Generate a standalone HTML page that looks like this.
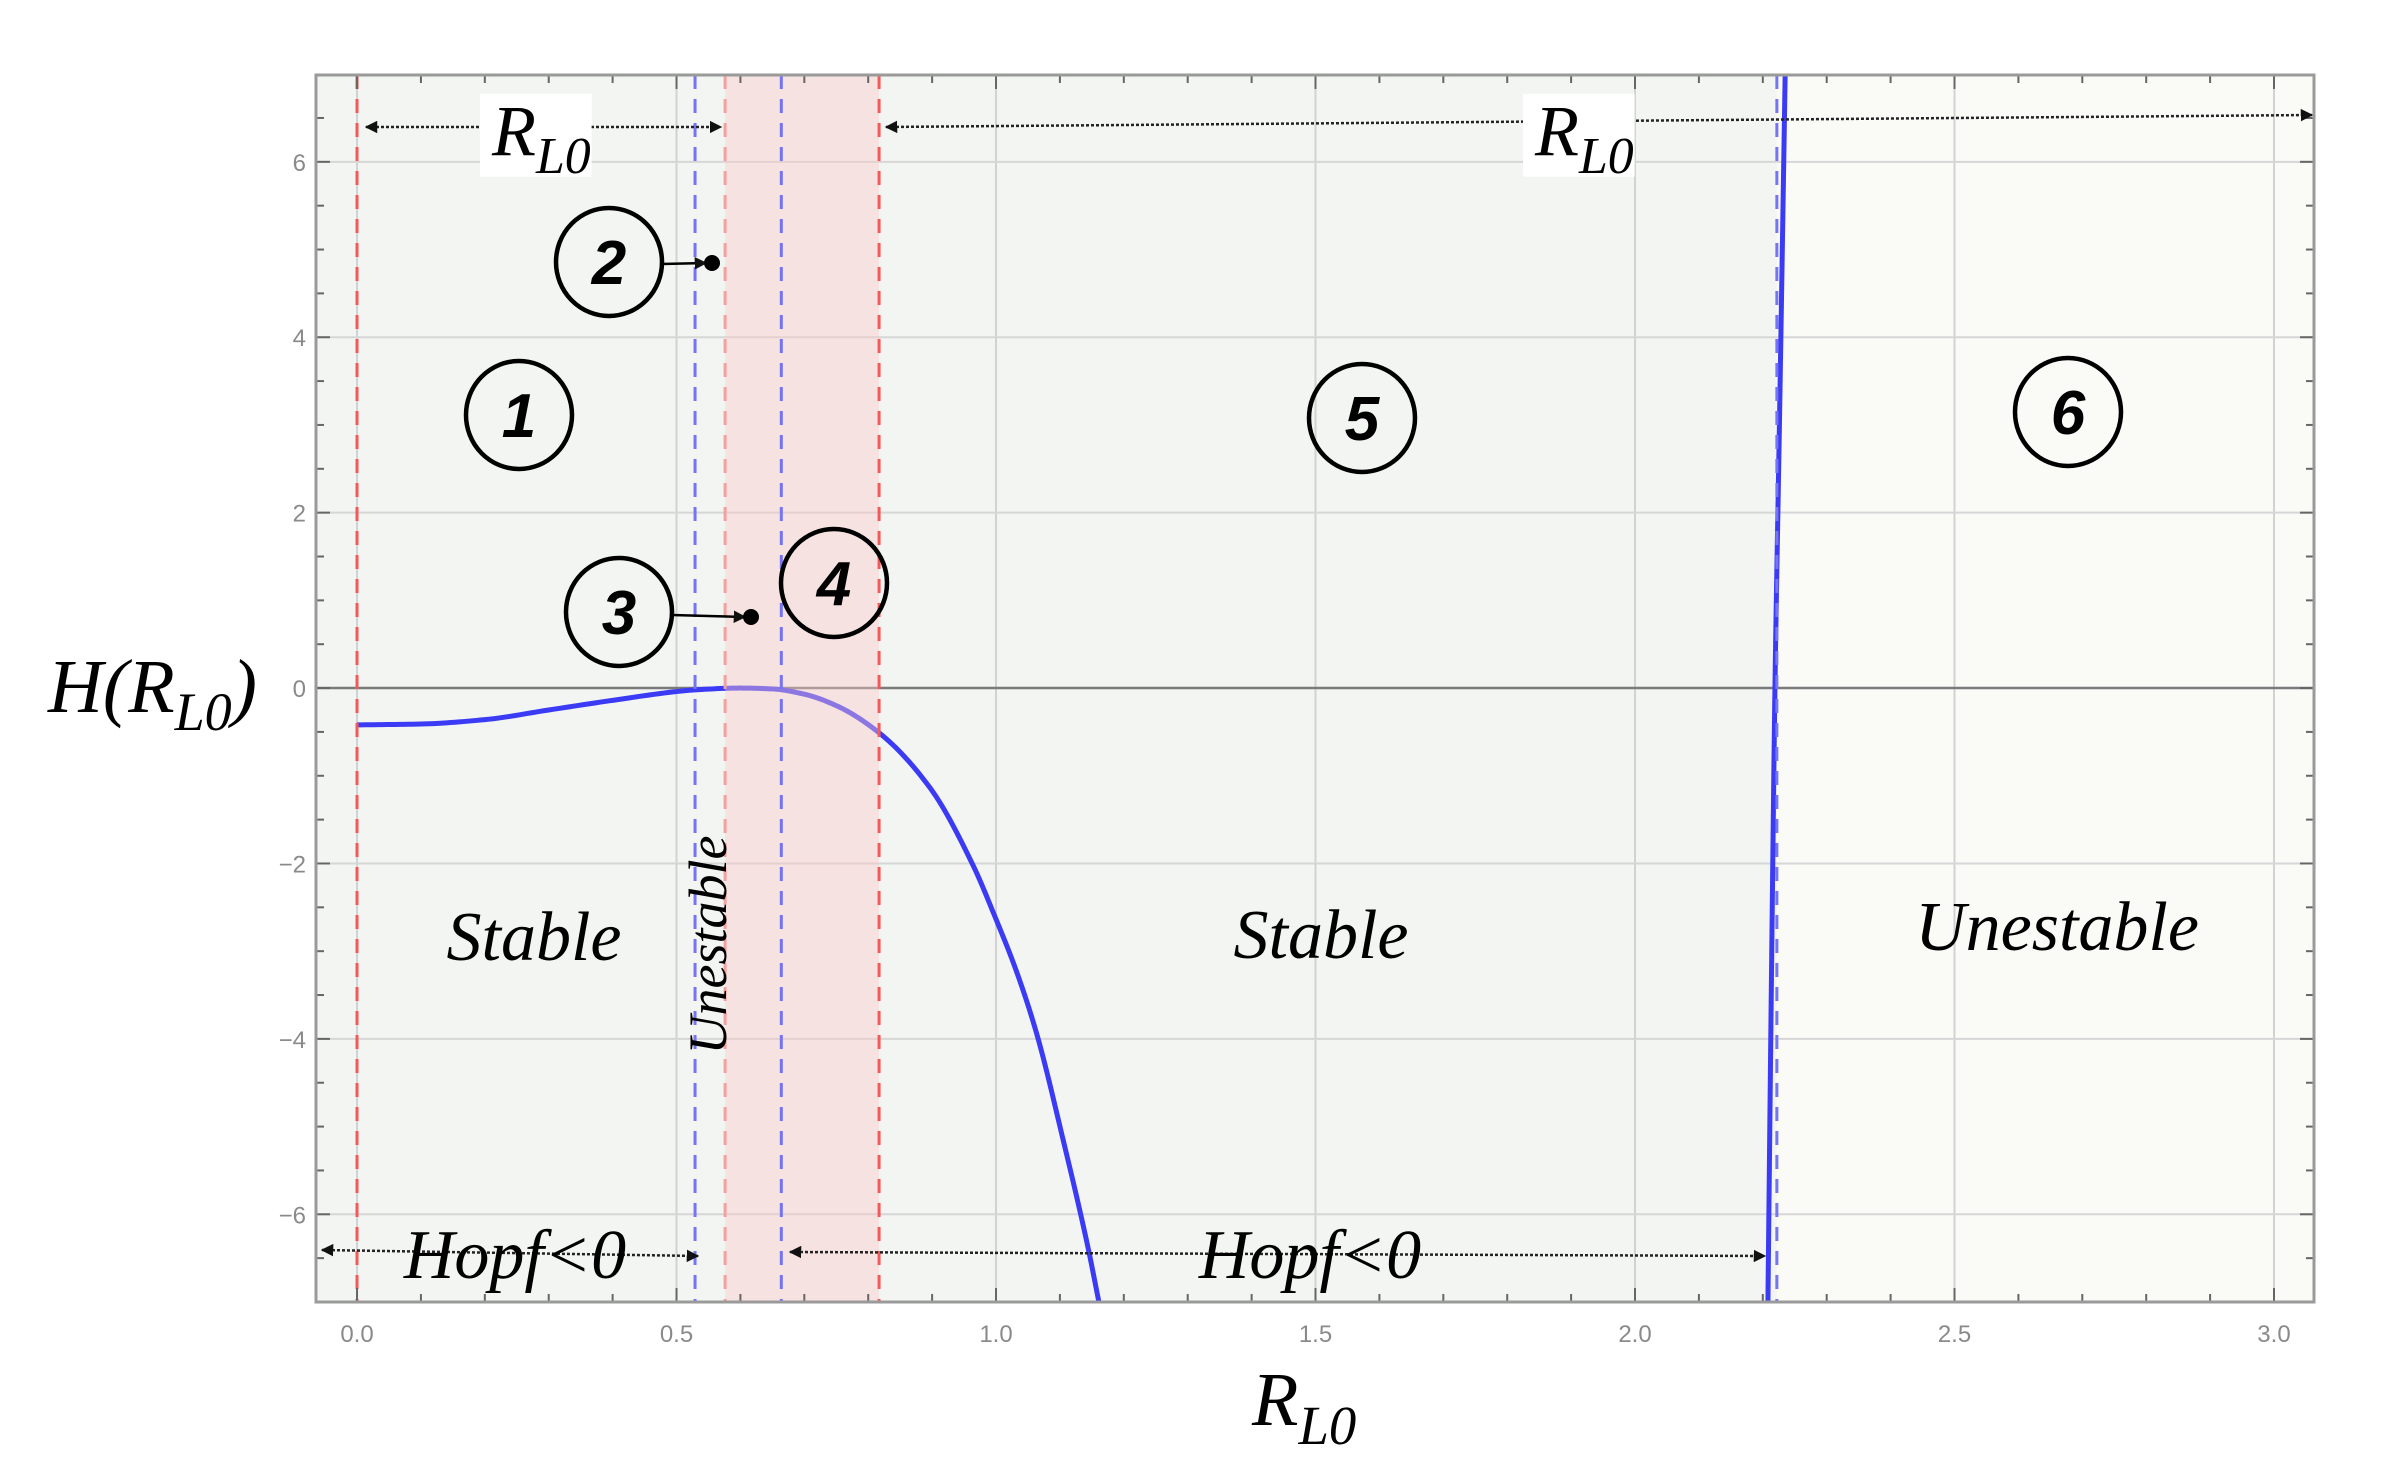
<!DOCTYPE html>
<html><head><meta charset="utf-8"><style>
html,body{margin:0;padding:0;background:#fff;}
svg{display:block;}
</style></head><body>
<svg id="chart" width="2401" height="1481" viewBox="0 0 2401 1481" xmlns="http://www.w3.org/2000/svg">
<defs>
<marker id="ah" viewBox="0 0 10 10" refX="9" refY="5" markerWidth="5" markerHeight="5" orient="auto-start-reverse"><path d="M0,0 L10,5 L0,10 z" fill="#111"/></marker>
</defs>
<rect x="0" y="0" width="2401" height="1481" fill="#fff"/>
<g id="bg"></g>
<g id="grid"></g>
<g id="curves"></g>
<g id="overlay"></g>
<g id="axes"></g>
<g id="annot" font-family="'Liberation Serif', serif" font-style="italic"></g>
</svg>
<script>
const xTicks = [0, 0.5, 1.0, 1.5, 2.0, 2.5, 3.0];
const xTickLabels = ["0.0","0.5","1.0","1.5","2.0","2.5","3.0"];
const yTicks = [-6, -4, -2, 0, 2, 4, 6];
const yTickLabels = ["\u22126","\u22124","\u22122","0","2","4","6"];
const branch1X = [0,0.1,0.2,0.3,0.4,0.5,0.53,0.6,0.65,0.7,0.75,0.817,0.897,0.964,0.998,1.033,1.064,1.105,1.144,1.161];
const branch1H = [-0.42,-0.41,-0.36,-0.25,-0.14,-0.04,-0.02,0,-0.01,-0.07,-0.2,-0.51,-1.14,-2.02,-2.6,-3.25,-3.95,-5.15,-6.38,-7.0];
const branch2X = [2.208,2.214,2.219,2.226,2.235];
const branch2H = [-7,-3,0,3,7];
const redLines = [0, 0.817];
const redLightLines = [0.576];
const blueLines = [0.529, 0.664, 2.222];
const band = [0.576, 0.817];
const unstableStart = 2.222;

const X0=316, X1=2314, Y0=75, Y1=1302;
const xmin=-0.0642, xmax=3.0626, ymin=-7.0, ymax=6.99;
function sx(v){return X0+(v-xmin)/(xmax-xmin)*(X1-X0);}
function sy(v){return Y1-(v-ymin)/(ymax-ymin)*(Y1-Y0);}
const NS="http://www.w3.org/2000/svg";
function mk(tag, attrs, parent){const e=document.createElementNS(NS,tag);for(const k in attrs)e.setAttribute(k,attrs[k]);parent.appendChild(e);return e;}
const bg=document.getElementById('bg'), grid=document.getElementById('grid'), curves=document.getElementById('curves'), ov=document.getElementById('overlay'), axes=document.getElementById('axes'), an=document.getElementById('annot');

let r=mk('rect',{x:X0,y:Y0,width:sx(unstableStart)-X0,height:Y1-Y0,fill:'#f3f5f2'},bg);


r=mk('rect',{x:sx(unstableStart),y:Y0,width:X1-sx(unstableStart),height:Y1-Y0,fill:'#fafaf7'},bg);



xTicks.forEach((t,i)=>{
  const l=mk('line',{x1:sx(t),x2:sx(t),y1:Y0,y2:Y1,stroke:'#d2d2d2','stroke-width':2},grid);
  
  
  const tx=mk('text',{x:sx(t),y:Y1+40,'text-anchor':'middle','font-family':"'Liberation Sans', sans-serif",'font-size':24,fill:'#8a8a8a'},axes);
  tx.textContent=xTickLabels[i];
  
  
});
yTicks.forEach((t,i)=>{
  const l=mk('line',{x1:X0,x2:X1,y1:sy(t),y2:sy(t),stroke:t===0?'#7a7a7a':'#d6d6d6','stroke-width':t===0?2.5:2},grid);
  
  
  const tx=mk('text',{x:X0-10,y:sy(t)+9,'text-anchor':'end','font-family':"'Liberation Sans', sans-serif",'font-size':24,fill:'#8a8a8a'},axes);
  tx.textContent=yTickLabels[i];
  
  
});
for(let v=-0.0; v<=3.05; v+=0.1){
  const major=Math.abs(v/0.5-Math.round(v/0.5))<1e-6, L=major?14:8;
  mk('line',{x1:sx(v),x2:sx(v),y1:Y1,y2:Y1-L,stroke:'#666','stroke-width':2},axes);
  mk('line',{x1:sx(v),x2:sx(v),y1:Y0,y2:Y0+L,stroke:'#666','stroke-width':2},axes);
}
for(let v=-6.5; v<=6.6; v+=0.5){
  const major=Math.abs(v/2-Math.round(v/2))<1e-6, L=major?14:8;
  mk('line',{x1:X0,x2:X0+L,y1:sy(v),y2:sy(v),stroke:'#666','stroke-width':2},axes);
  mk('line',{x1:X1,x2:X1-L,y1:sy(v),y2:sy(v),stroke:'#666','stroke-width':2},axes);
}
r=mk('rect',{x:X0,y:Y0,width:X1-X0,height:Y1-Y0,fill:'none',stroke:'#9a9a9a','stroke-width':3},axes);



function monoPath(xs,ys){
  const n=xs.length, d=[], m=new Array(n);
  for(let i=0;i<n-1;i++) d.push((ys[i+1]-ys[i])/(xs[i+1]-xs[i]));
  m[0]=d[0]; m[n-1]=d[n-2];
  for(let i=1;i<n-1;i++){
    if(d[i-1]*d[i]<=0) m[i]=0;
    else { const h0=xs[i]-xs[i-1], h1=xs[i+1]-xs[i];
      const w1=2*h1+h0, w2=h1+2*h0; m[i]=(w1+w2)/(w1/d[i-1]+w2/d[i]); }
  }
  let s='';
  for(let i=0;i<n-1;i++){
    const h=xs[i+1]-xs[i];
    for(let k=0;k<=15;k++){
      if(i>0&&k===0) continue;
      const t=k/15, t2=t*t, t3=t2*t;
      const y=(2*t3-3*t2+1)*ys[i]+(t3-2*t2+t)*h*m[i]+(-2*t3+3*t2)*ys[i+1]+(t3-t2)*h*m[i+1];
      const x=xs[i]+t*h;
      s+=(s?' L':'M')+sx(x).toFixed(2)+','+sy(y).toFixed(2);
    }
  }
  return s;
}
let pth=mk('path',{d:monoPath(branch1X,branch1H),fill:'none',stroke:'#3b3bf5','stroke-width':5,'stroke-linejoin':'round'},curves);


pth=mk('path',{d:monoPath(branch2X,branch2H),fill:'none',stroke:'#3b3bf5','stroke-width':5},curves);



r=mk('rect',{x:sx(band[0]),y:Y0,width:sx(band[1])-sx(band[0]),height:Y1-Y0,fill:'rgba(250,200,200,0.42)'},ov);



function vline(v,color,name){
  const l=mk('line',{x1:sx(v),x2:sx(v),y1:Y0,y2:Y1,stroke:color,'stroke-width':3,'stroke-dasharray':'14 10'},ov);
  
  
}
redLines.forEach(v=>vline(v,'#f25a5a','red-boundary-line'));
redLightLines.forEach(v=>vline(v,'#f3a0a0','light-red-boundary-line'));
blueLines.forEach(v=>vline(v,'#7474f4','blue-boundary-line'));

function arrow(x1,y1,x2,y2,name){
  const l=mk('line',{x1,y1,x2,y2,stroke:'#222','stroke-width':2.5,'stroke-dasharray':'3 2','marker-start':'url(#ah)','marker-end':'url(#ah)'},an);
  
  
}
arrow(366,127,721,127,'rl0-range-arrow-left');
arrow(886,127,2312,115,'rl0-range-arrow-right');
arrow(322,1250,698,1256,'hopf-arrow-left');
arrow(790,1252,1765,1256,'hopf-arrow-right');

function label(x,y,txt,size,name,extra){
  const t=mk('text',Object.assign({x,y,'font-size':size,fill:'#000','text-anchor':'middle'},extra||{}),an);
  t.textContent=txt;
  
  
  return t;
}
function rl0(x,y,size,name){
  mk('rect',{x:x-12,y:y-size*0.85,width:size*1.55,height:size*1.15,fill:'#fff'},an);
  const t=mk('text',{x,y,'font-size':size,fill:'#000'},an);
  
  
  t.innerHTML='R<tspan font-size="'+(size*0.72)+'" dy="'+(size*0.25)+'">L0</tspan>';
}
rl0(492,155,72,'rl0-label-left');
rl0(1535,155,72,'rl0-label-right');
rl0(1252,1425,76,'x-axis-title');

const yt=mk('text',{x:48,y:712,'font-size':76,fill:'#000'},an);


yt.innerHTML='H(R<tspan font-size="54" dy="18">L0</tspan><tspan dy="-18">)</tspan>';

label(534,960,'Stable',70,'stable-label-left');
label(1321,958,'Stable',70,'stable-label-right');
label(2057,950,'Unestable',70,'unstable-label-right');
label(0,0,'Unestable',54,'unstable-label-vertical',{transform:'translate(726,945) rotate(-90)'});
label(515,1278,'Hopf<0',70,'hopf-label-left');
label(1310,1278,'Hopf<0',70,'hopf-label-right');

function circ(cx,cy,n,name){
  const g=mk('g',{},an);
  
  
  mk('ellipse',{cx,cy,rx:53,ry:54,fill:'none',stroke:'#000','stroke-width':4.5},g);
  const t=mk('text',{x:cx,y:cy+22,'font-size':62,'font-weight':'bold','text-anchor':'middle','font-family':"'Liberation Sans', sans-serif",'font-style':'italic',fill:'#000'},g);
  t.textContent=n;
}
circ(519,415,'1','region-1-marker');
circ(609,262,'2','region-2-marker');
circ(619,612,'3','region-3-marker');
circ(834,583,'4','region-4-marker');
circ(1362,418,'5','region-5-marker');
circ(2068,412,'6','region-6-marker');
function pointer(x1,y1,x2,y2,name){
  const l=mk('line',{x1,y1,x2,y2,stroke:'#000','stroke-width':2.5,'marker-end':'url(#ah)'},an);
  
  
  const c=mk('circle',{cx:x2+6,cy:y2,r:8,fill:'#000'},an);
  
  
}
pointer(662,264,706,263,'region-2-pointer');
pointer(672,615,745,617,'region-3-pointer');
</script>
</body></html>
